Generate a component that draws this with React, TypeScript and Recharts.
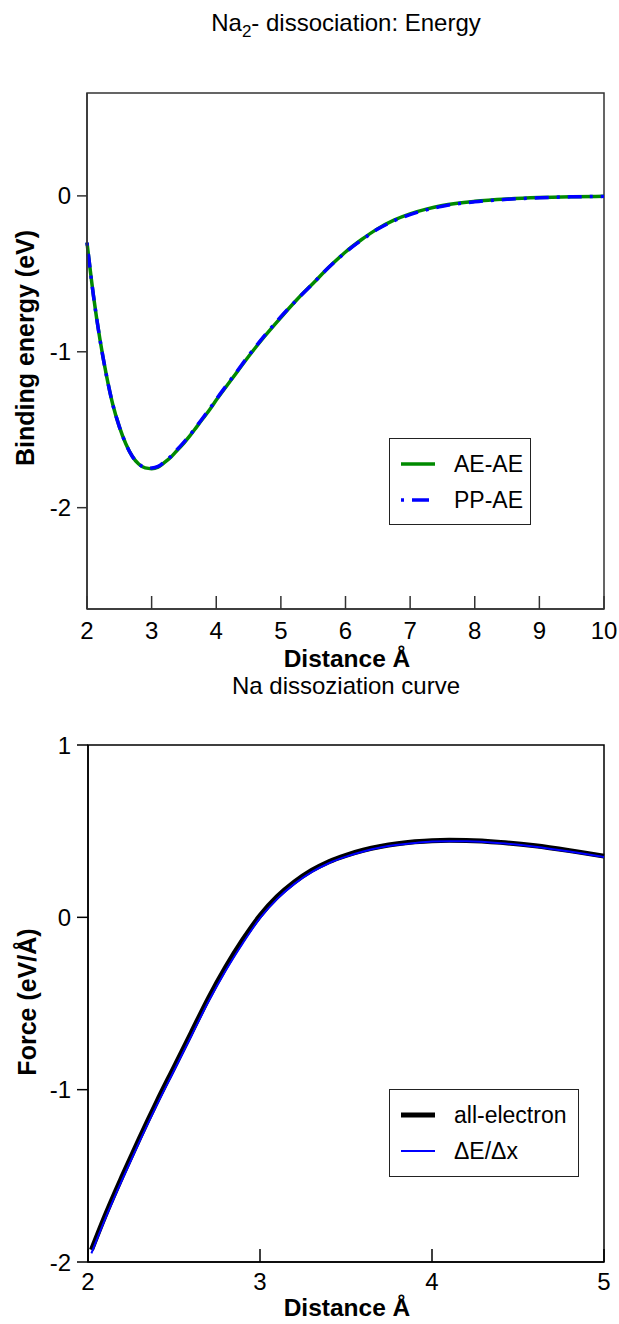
import React from 'react';
import {
  LineChart, Line, XAxis, YAxis, ReferenceArea, Legend,
} from 'recharts';

// Na2 binding energy curve (eV) vs distance (Å)
const distance = [
  2.0, 2.1, 2.2, 2.3, 2.4, 2.5, 2.6, 2.7, 2.8, 2.9, 3.0, 3.1, 3.2, 3.3, 3.4, 3.5,
  3.6, 3.7, 3.8, 3.9, 4.0, 4.25, 4.5, 4.75, 5.0, 5.25, 5.5, 5.75, 6.0, 6.25, 6.5,
  6.75, 7.0, 7.25, 7.5, 8.0, 8.5, 9.0, 9.5, 10.0,
];
const aeAe = [
  -0.3, -0.64, -0.92, -1.15, -1.34, -1.48, -1.59, -1.67, -1.72, -1.745, -1.75, -1.74,
  -1.71, -1.675, -1.63, -1.585, -1.535, -1.48, -1.425, -1.37, -1.31, -1.17, -1.03,
  -0.9, -0.78, -0.665, -0.56, -0.455, -0.36, -0.28, -0.21, -0.155, -0.115, -0.085,
  -0.062, -0.035, -0.02, -0.011, -0.006, -0.003,
];
const ppAe = [
  -0.3, -0.64, -0.92, -1.15, -1.34, -1.48, -1.59, -1.67, -1.72, -1.742, -1.745, -1.735,
  -1.705, -1.67, -1.625, -1.58, -1.53, -1.475, -1.42, -1.365, -1.305, -1.165, -1.025,
  -0.895, -0.775, -0.665, -0.56, -0.455, -0.362, -0.283, -0.213, -0.16, -0.12, -0.09,
  -0.066, -0.038, -0.022, -0.012, -0.006, -0.003,
];
const energyXTicks = [2, 3, 4, 5, 6, 7, 8, 9, 10];
const energyYTicks = [-2, -1, 0];

// Force curve (eV/Å) vs distance (Å)
const forceDistance = [
  2.02, 2.1, 2.2, 2.3, 2.4, 2.5, 2.6, 2.7, 2.8, 2.9, 3.0, 3.1, 3.2, 3.3, 3.4, 3.5,
  3.6, 3.7, 3.8, 3.9, 4.0, 4.1, 4.2, 4.4, 4.6, 4.8, 5.0,
];
const allElectron = [
  -1.93, -1.73, -1.5, -1.28, -1.07, -0.87, -0.67, -0.47, -0.29, -0.13, 0.01, 0.12,
  0.205, 0.272, 0.323, 0.36, 0.389, 0.411, 0.427, 0.438, 0.445, 0.447, 0.446, 0.435,
  0.415, 0.387, 0.355,
];
const deltaEdx = [
  -1.95, -1.75, -1.52, -1.3, -1.09, -0.89, -0.69, -0.49, -0.31, -0.15, -0.005, 0.107,
  0.194, 0.262, 0.314, 0.352, 0.382, 0.405, 0.421, 0.432, 0.44, 0.442, 0.441, 0.43,
  0.41, 0.382, 0.35,
];
const forceXTicks = [2, 3, 4, 5];
const forceYTicks = [-2, -1, 0, 1];

const energyData = distance.map((d, i) => ({ d, ae: aeAe[i], pp: ppAe[i] }));
const forceData = forceDistance.map((d, i) => ({ d, ae: allElectron[i], de: deltaEdx[i] }));

const FONT = '"Liberation Sans", Arial, Helvetica, sans-serif';

const InwardTick = ({ x, y, payload, stroke, len, dy }: any) => (
  <g>
    <line x1={x} x2={x} y1={y} y2={y - len} stroke={stroke} strokeWidth={1.5} />
    <text x={x} y={y + dy} textAnchor="middle" fontSize={24} fontFamily={FONT} fill="#000">
      {payload.value}
    </text>
  </g>
);

const LegendBox = ({ items, width, height }: any) => (
  <div
    style={{
      width, height, boxSizing: 'border-box', border: '1.5px solid #222', background: '#fff',
      fontFamily: FONT, fontSize: 23, color: '#000', paddingTop: 7,
    }}
  >
    {items.map((it: any) => (
      <div key={it.label} style={{ display: 'flex', alignItems: 'center', height: 36 }}>
        <svg width={64} height={20} style={{ flex: 'none' }}>
          <line x1={11} x2={45} y1={10} y2={10} stroke={it.color} strokeWidth={it.width} strokeDasharray={it.dash} />
        </svg>
        <span>{it.label}</span>
      </div>
    ))}
  </div>
);

const energyLegend = [
  { label: 'AE-AE', color: '#008a00', width: 3.5 },
  { label: 'PP-AE', color: '#0000ff', width: 3.5, dash: '3 8 14 0' },
];
const forceLegend = [
  { label: 'all-electron', color: '#000', width: 5 },
  { label: '\u0394E/\u0394x', color: '#0000ff', width: 2 },
];

const abs = (style: any): any => ({ position: 'absolute', whiteSpace: 'nowrap', fontFamily: FONT, color: '#000', ...style });

export default function App() {
  return (
    <div style={{ position: 'absolute', left: 0, top: 0, width: 619, height: 1324, background: '#fff' }}>
      <div style={abs({ left: 346, top: 9, transform: 'translateX(-50%)', fontSize: 24 })}>
        Na<sub style={{ fontSize: 17 }}>2</sub>- dissociation: Energy
      </div>
      <div style={abs({ left: 347, top: 645, transform: 'translateX(-50%)', fontSize: 24.5, fontWeight: 'bold' })}>
        Distance Å
      </div>
      <div style={abs({ left: 25, top: 348, transform: 'translate(-50%,-50%) rotate(-90deg)', fontSize: 25, fontWeight: 'bold' })}>
        Binding energy (eV)
      </div>

      <div style={{ position: 'absolute', left: 0, top: 0 }}>
        <LineChart width={619} height={660} data={energyData} margin={{ top: 93, right: 15, left: 0, bottom: 0 }}>
          <XAxis
            type="number" dataKey="d" domain={[2, 10]} ticks={energyXTicks} height={51}
            axisLine={{ stroke: '#333', strokeWidth: 1.5 }} tickLine={false} tickSize={0} tickMargin={0}
            tick={<InwardTick stroke="#333" len={13} dy={30} />} interval={0}
          />
          <YAxis
            type="number" domain={[-2.65, 0.66]} ticks={energyYTicks} width={87}
            axisLine={{ stroke: '#333', strokeWidth: 1.5 }} tickLine={{ stroke: '#333', strokeWidth: 1.5 }}
            tickSize={10} tickMargin={6} tick={{ fontSize: 24, fill: '#000', fontFamily: FONT }}
            allowDataOverflow
          />
          <ReferenceArea x1={2} x2={10} y1={-2.65} y2={0.66} fill="none" stroke="#333" strokeWidth={1.5} />
          <Line type="monotone" dataKey="ae" name="AE-AE" stroke="#008a00" strokeWidth={3.5} dot={false} isAnimationActive={false} />
          <Line type="monotone" dataKey="pp" name="PP-AE" stroke="#0000ff" strokeWidth={3.5} strokeDasharray="3 8 14 8" dot={false} isAnimationActive={false} />
          <Legend
            layout="vertical" align="center" verticalAlign="middle"
            wrapperStyle={{ left: 389, top: 438, width: 142, height: 87 }}
            content={() => <LegendBox items={energyLegend} width={142} height={87} />}
          />
        </LineChart>
      </div>

      <div style={abs({ left: 346, top: 672, transform: 'translateX(-50%)', fontSize: 24 })}>
        Na dissoziation curve
      </div>
      <div style={abs({ left: 347, top: 1294, transform: 'translateX(-50%)', fontSize: 24.5, fontWeight: 'bold' })}>
        Distance Å
      </div>
      <div style={abs({ left: 27, top: 1002, transform: 'translate(-50%,-50%) rotate(-90deg)', fontSize: 25, fontWeight: 'bold' })}>
        Force (eV/Å)
      </div>

      <div style={{ position: 'absolute', left: 0, top: 660 }}>
        <LineChart width={619} height={664} data={forceData} margin={{ top: 85, right: 15, left: 0, bottom: 0 }}>
          <XAxis
            type="number" dataKey="d" domain={[2, 5]} ticks={forceXTicks} height={62}
            axisLine={{ stroke: '#000', strokeWidth: 1.5 }} tickLine={false} tickSize={0} tickMargin={0}
            tick={<InwardTick stroke="#000" len={13} dy={28} />} interval={0}
          />
          <YAxis
            type="number" domain={[-2, 1]} ticks={forceYTicks} width={88}
            axisLine={{ stroke: '#000', strokeWidth: 1.5 }} tickLine={{ stroke: '#000', strokeWidth: 1.5 }}
            tickSize={11} tickMargin={6} tick={{ fontSize: 24, fill: '#000', fontFamily: FONT }}
            allowDataOverflow
          />
          <ReferenceArea x1={2} x2={5} y1={-2} y2={1} fill="none" stroke="#000" strokeWidth={1.5} />
          <Line type="monotone" dataKey="ae" name="all-electron" stroke="#000" strokeWidth={5} dot={false} isAnimationActive={false} />
          <Line type="monotone" dataKey="de" name={'\u0394E/\u0394x'} stroke="#0000ff" strokeWidth={2} dot={false} isAnimationActive={false} />
          <Legend
            layout="vertical" align="center" verticalAlign="middle"
            wrapperStyle={{ left: 389, top: 429, width: 190, height: 88 }}
            content={() => <LegendBox items={forceLegend} width={190} height={88} />}
          />
        </LineChart>
      </div>
    </div>
  );
}
